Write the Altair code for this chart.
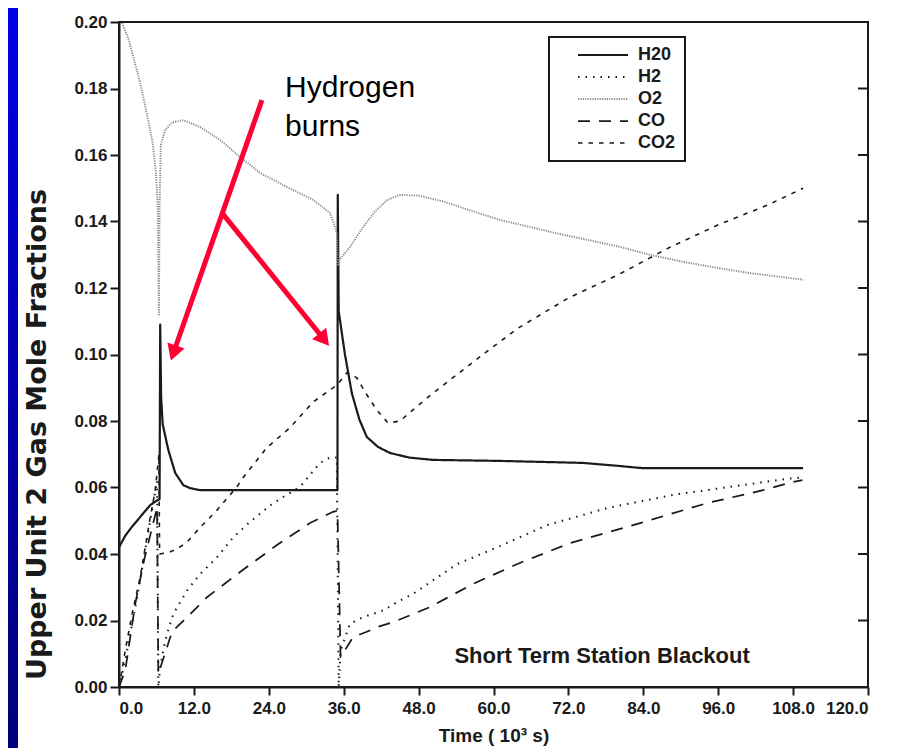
import altair as alt
import pandas as pd

# ---------------- data ----------------
gases = ["H20", "H2", "O2", "CO", "CO2"]

h2o_t = [0.0, 1.0, 2.0, 2.9, 4.0, 5.0, 6.0, 6.5, 6.6, 6.75, 7.0, 7.9, 9.0, 10.3, 11.4, 13.0,
         35.0, 35.05, 35.2, 36.2, 37.3, 38.5, 39.7, 41.5, 43.4, 46.5, 50.3, 61.0, 74.3, 80.0,
         84.0, 109.6]
h2o_v = [0.042, 0.0455, 0.048, 0.050, 0.0525, 0.0547, 0.056, 0.0565, 0.109, 0.087, 0.079,
         0.0713, 0.0644, 0.0607, 0.0598, 0.0592, 0.0592, 0.148, 0.113, 0.100, 0.0884, 0.0805,
         0.0752, 0.0722, 0.0704, 0.069, 0.0683, 0.068, 0.0674, 0.0665, 0.0658, 0.0658]

h2_t = [0.0, 1.0, 2.0, 3.0, 4.0, 5.0, 6.1, 6.3, 6.6, 7.2, 7.7, 8.7, 10.9, 13.0, 15.7, 18.3,
        21.0, 24.7, 29.0, 32.2, 33.8, 34.9, 35.2, 35.5, 37.0, 39.1, 42.3, 45.0, 47.1, 54.2,
        60.6, 68.6, 78.2, 88.8, 97.9, 107.0, 109.5]
h2_v = [0.0, 0.008, 0.018, 0.028, 0.039, 0.050, 0.062, 0.0, 0.006, 0.012, 0.016, 0.022, 0.029,
        0.034, 0.039, 0.045, 0.0497, 0.0553, 0.0602, 0.0674, 0.069, 0.069, 0.0, 0.011, 0.019,
        0.021, 0.023, 0.026, 0.028, 0.037, 0.042, 0.0487, 0.0538, 0.0578, 0.0602, 0.0626, 0.063]

o2_t = [0.5, 1.5, 2.5, 3.4, 4.5, 5.4, 5.9, 6.2, 6.4, 6.5, 6.7, 7.4, 8.5, 10.3, 13.0, 16.2,
        19.4, 22.6, 26.9, 31.1, 33.8, 34.6, 34.9, 35.1, 35.3, 37.0, 39.0, 41.0, 43.0, 45.0,
        48.0, 52.0, 56.0, 61.0, 70.0, 80.0, 85.0, 90.0, 96.0, 101.0, 109.6]
o2_v = [0.1997, 0.195, 0.188, 0.1817, 0.172, 0.1636, 0.155, 0.145, 0.112, 0.145, 0.163,
        0.1675, 0.1698, 0.1705, 0.1684, 0.1645, 0.1594, 0.1546, 0.1504, 0.1465, 0.1426,
        0.1383, 0.1365, 0.127, 0.1285, 0.1323, 0.138, 0.143, 0.1465, 0.148, 0.1478, 0.146,
        0.1435, 0.1405, 0.1365, 0.1325, 0.130, 0.128, 0.126, 0.1245, 0.1225]

co_t = [0.0, 1.0, 2.6, 4.0, 6.1, 6.3, 7.0, 8.5, 10.9, 14.1, 19.4, 25.3, 30.6, 34.3, 35.0,
        35.5, 35.9, 37.5, 39.7, 41.3, 43.9, 49.8, 56.7, 64.2, 72.3, 83.5, 94.2, 103.2, 108.0,
        109.5]
co_v = [0.0, 0.005, 0.025, 0.038, 0.054, 0.004, 0.008, 0.0166, 0.021, 0.027, 0.0346, 0.0427,
        0.0493, 0.0527, 0.053, 0.009, 0.0102, 0.015, 0.0166, 0.018, 0.0195, 0.024, 0.031,
        0.0373, 0.0433, 0.0493, 0.0553, 0.0592, 0.0617, 0.0622]

co2_t = [0.0, 0.3, 1.0, 2.1, 3.4, 5.0, 5.8, 6.4, 6.5, 8.0, 9.3, 10.9, 13.0, 15.7, 18.9, 19.9,
         23.7, 27.4, 31.1, 34.9, 36.5, 38.1, 39.5, 41.3, 43.1, 45.0, 47.5, 50.3, 59.0, 64.0,
         72.0, 80.0, 88.0, 96.0, 104.0, 109.6]
co2_v = [0.0, 0.003, 0.011, 0.022, 0.033, 0.051, 0.059, 0.070, 0.040, 0.0405, 0.0415, 0.0436,
         0.048, 0.0532, 0.0602, 0.063, 0.072, 0.078, 0.0857, 0.0908, 0.0945, 0.093, 0.0885,
         0.0833, 0.0794, 0.080, 0.084, 0.0884, 0.101, 0.108, 0.117, 0.124, 0.132, 0.139,
         0.145, 0.150]

x_ticks = [0, 12, 24, 36, 48, 60, 72, 84, 96, 108, 120]
y_ticks = [0.0, 0.02, 0.04, 0.06, 0.08, 0.10, 0.12, 0.14, 0.16, 0.18, 0.20]
right_ticks = [0.02, 0.04, 0.06, 0.08, 0.10, 0.12, 0.14, 0.16, 0.18]

# annotation text & arrows (data coordinates)
note_t = [26.6, 26.6]
note_v = [0.1801, 0.1684]
note_s = ["Hydrogen", "burns"]
arrow_t1 = [22.9, 16.5]
arrow_v1 = [0.1765, 0.1426]
arrow_t2 = [8.86, 32.6]
arrow_v2 = [0.1012, 0.1051]
head_angle = [199, 141]
caption = "Short Term Station Blackout"

# ---------------- build table ----------------
rows = []
for g, ts, vs in [("H20", h2o_t, h2o_v), ("H2", h2_t, h2_v), ("O2", o2_t, o2_v),
                  ("CO", co_t, co_v), ("CO2", co2_t, co2_v)]:
    for i, (t, v) in enumerate(zip(ts, vs)):
        rows.append({"gas": g, "t": t, "v": v, "i": i})
df = pd.DataFrame(rows)

FONT = "Liberation Sans"
INK = "#1a1a1a"

xscale = alt.Scale(domain=[0, 120], nice=False, zero=False)
yscale = alt.Scale(domain=[0, 0.2], nice=False)

legend = alt.Legend(
    title=None, orient="none", legendX=430, legendY=15,
    symbolType="M0,0H20", symbolSize=25, symbolOffset=11,
    labelFont=FONT, labelFontSize=18, labelFontWeight="bold", labelColor=INK,
    labelOffset=51, rowPadding=4, padding=9,
    strokeColor=INK, fillColor="white",
)

lines = alt.Chart(df).mark_line(strokeJoin="round").encode(
    x=alt.X("t:Q", scale=xscale,
            axis=alt.Axis(values=x_ticks, format=".1f", title="Time ( 10³ s)",
                          grid=False, tickSize=8, labelPadding=5, titlePadding=10)),
    y=alt.Y("v:Q", scale=yscale,
            axis=alt.Axis(values=y_ticks, format=".2f",
                          title="Upper Unit 2 Gas Mole Fractions",
                          titleFont="DejaVu Sans", titleFontSize=27,
                          titleAngle=270, titleX=-82, titleY=412,
                          titleAlign="center", titleBaseline="middle",
                          grid=False, tickSize=9, labelPadding=3)),
    color=alt.Color("gas:N", scale=alt.Scale(domain=gases,
                    range=[INK, INK, "#8a8a8a", INK, INK]), legend=legend),
    strokeDash=alt.StrokeDash("gas:N", scale=alt.Scale(domain=gases,
                    range=[[1, 0], [1.5, 6], [1.2, 1.2], [12, 9], [4.5, 6]]), legend=legend),
    strokeWidth=alt.StrokeWidth("gas:N", scale=alt.Scale(domain=gases,
                    range=[2.2, 1.6, 1.8, 2.2, 2.8]), legend=legend),
    order=alt.Order("i:Q"),
)

# inward ticks on the right frame
right_tk = alt.Chart(pd.DataFrame({"v": right_ticks})).mark_rule(
    color=INK, strokeWidth=2
).encode(y=alt.Y("v:Q", scale=yscale), x=alt.value(739), x2=alt.value(749))

strip = alt.Chart(pd.DataFrame({"a": [0]})).mark_rect(
    fill=alt.Gradient(gradient="linear", x1=0, x2=0, y1=0, y2=1,
                      stops=[alt.GradientStop(color="#0000e6", offset=0),
                             alt.GradientStop(color="#00007a", offset=1)])
).encode(x=alt.value(-111), x2=alt.value(-101), y=alt.value(-14), y2=alt.value(728))

notes = alt.Chart(pd.DataFrame({"t": note_t, "v": note_v, "s": note_s})).mark_text(
    align="left", baseline="middle", font=FONT, fontSize=30, color="black"
).encode(x=alt.X("t:Q", scale=xscale), y=alt.Y("v:Q", scale=yscale), text="s:N")

arrows = alt.Chart(pd.DataFrame({"t1": arrow_t1, "v1": arrow_v1,
                                 "t2": arrow_t2, "v2": arrow_v2})).mark_rule(
    color="#ff0033", strokeWidth=5
).encode(x=alt.X("t1:Q", scale=xscale), y=alt.Y("v1:Q", scale=yscale),
         x2="t2:Q", y2="v2:Q")

heads = alt.Chart(pd.DataFrame({"t": arrow_t2, "v": arrow_v2, "a": head_angle})).mark_point(
    shape="triangle", filled=True, color="#ff0033", opacity=1, size=330
).encode(x=alt.X("t:Q", scale=xscale), y=alt.Y("v:Q", scale=yscale),
         angle=alt.Angle("a:Q", scale=None))

cap = alt.Chart(pd.DataFrame({"t": [77.4], "v": [0.0093], "s": [caption]})).mark_text(
    align="center", baseline="middle", font=FONT, fontSize=22, fontWeight="bold", color=INK
).encode(x=alt.X("t:Q", scale=xscale), y=alt.Y("v:Q", scale=yscale), text="s:N")

chart = alt.layer(lines, strip, right_tk, arrows, heads, notes, cap).properties(
    width=749, height=665,
    padding={"left": 111, "top": 14, "right": 10, "bottom": 61},
    autosize=alt.AutoSizeParams(type="none"),
    background="white",
).configure_view(
    stroke=INK, strokeWidth=2
).configure_axis(
    domainColor=INK, domainWidth=2, tickColor=INK, tickWidth=2,
    labelFont=FONT, labelFontSize=17, labelFontWeight="bold", labelColor=INK,
    titleFont=FONT, titleFontSize=19, titleFontWeight="bold", titleColor=INK,
).configure_legend(
    strokeWidth=2
)

chart.save("out.html", embed_options={"renderer": "svg", "actions": False})
